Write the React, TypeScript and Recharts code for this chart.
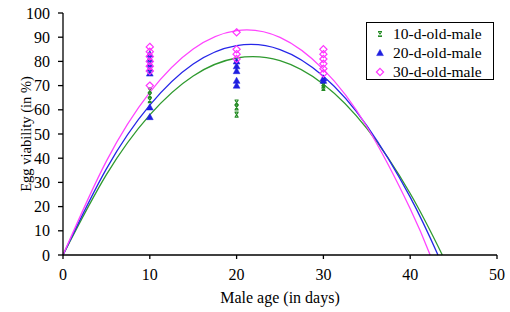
import React from 'react';
import { ComposedChart, Line, Scatter, XAxis, YAxis, Legend } from 'recharts';

const ageTicks = [0, 10, 20, 30, 40, 50];
const viabilityTicks = [0, 10, 20, 30, 40, 50, 60, 70, 80, 90, 100];

const seriesNames = ['10-d-old-male', '20-d-old-male', '30-d-old-male'];
const seriesColors = ['#238a23', '#1f1fe0', '#ff33ff'];
const lineColors = ['#2f9a2f', '#2626e8', '#ff44ff'];

// fitted trend curves
const fit10 = [
  { age: 0, v: 0 }, { age: 5, v: 33.2 }, { age: 10, v: 57.9 }, { age: 15, v: 74.0 },
  { age: 20, v: 81.4 }, { age: 25, v: 80.3 }, { age: 30, v: 70.6 }, { age: 35, v: 52.3 },
  { age: 40, v: 25.4 }, { age: 43.7, v: 0 },
];
const fit20 = [
  { age: 0, v: 0 }, { age: 5, v: 35.6 }, { age: 10, v: 61.9 }, { age: 15, v: 78.9 },
  { age: 20, v: 86.5 }, { age: 25, v: 84.9 }, { age: 30, v: 73.9 }, { age: 35, v: 53.5 },
  { age: 40, v: 23.9 }, { age: 43.2, v: 0 },
];
const fit30 = [
  { age: 0, v: 0 }, { age: 5, v: 38.8 }, { age: 10, v: 67.2 }, { age: 15, v: 85.1 },
  { age: 20, v: 92.7 }, { age: 25, v: 89.9 }, { age: 30, v: 76.7 }, { age: 35, v: 53.1 },
  { age: 40, v: 19.1 }, { age: 42.3, v: 0 },
];

// observations
const obs10 = [
  { age: 10, v: 68 }, { age: 10, v: 66 }, { age: 10, v: 64 },
  { age: 20, v: 63 }, { age: 20, v: 61 }, { age: 20, v: 58 },
  { age: 30, v: 70 }, { age: 30, v: 69 },
];
const obs20 = [
  { age: 10, v: 83 }, { age: 10, v: 81 }, { age: 10, v: 79 }, { age: 10, v: 77 },
  { age: 10, v: 75 }, { age: 10, v: 61 }, { age: 10, v: 57 },
  { age: 20, v: 80 }, { age: 20, v: 78 }, { age: 20, v: 76 }, { age: 20, v: 72 }, { age: 20, v: 70 },
  { age: 30, v: 73 }, { age: 30, v: 72 },
];
const obs30 = [
  { age: 10, v: 86 }, { age: 10, v: 84 }, { age: 10, v: 82 }, { age: 10, v: 80 },
  { age: 10, v: 78 }, { age: 10, v: 76 }, { age: 10, v: 70 },
  { age: 20, v: 92 }, { age: 20, v: 85 }, { age: 20, v: 83 }, { age: 20, v: 81 },
  { age: 30, v: 85 }, { age: 30, v: 83 }, { age: 30, v: 81 }, { age: 30, v: 79 },
  { age: 30, v: 77 }, { age: 30, v: 75 },
];

const FONT = '"Liberation Serif", "Times New Roman", serif';

const Hourglass = ({ cx, cy, color }: any) => (
  <path
    d={`M${cx - 2},${cy - 2.5}H${cx + 2}M${cx - 2},${cy + 2.5}H${cx + 2}M${cx - 1.6},${cy - 2.3}L${cx + 1.6},${cy + 2.3}M${cx + 1.6},${cy - 2.3}L${cx - 1.6},${cy + 2.3}`}
    stroke={color}
    strokeWidth={1.1}
    fill="none"
  />
);
const Tri = ({ cx, cy, color }: any) => (
  <path d={`M${cx},${cy - 3.6}L${cx + 3.4},${cy + 2.6}L${cx - 3.4},${cy + 2.6}Z`} fill={color} stroke={color} strokeWidth={0.5} />
);
const Diamond = ({ cx, cy, color }: any) => (
  <path d={`M${cx},${cy - 3.6}L${cx + 3.6},${cy}L${cx},${cy + 3.6}L${cx - 3.6},${cy}Z`} fill="none" stroke={color} strokeWidth={1.2} />
);

const markers = [Hourglass, Tri, Diamond];

const LegendBox = () => (
  <div
    style={{
      border: '1.5px solid #000',
      background: '#fff',
      width: 128,
      height: 58,
      boxSizing: 'border-box',
      fontFamily: FONT,
      fontSize: 15.5,
      paddingTop: 1,
    }}
  >
    {seriesNames.map((name, i) => {
      const M = markers[i];
      return (
        <div key={name} style={{ display: 'flex', alignItems: 'center', height: 19, lineHeight: '18px' }}>
          <svg width={26} height={12} style={{ flex: 'none' }}>
            <M cx={13} cy={6} color={seriesColors[i]} />
          </svg>
          <span>{name}</span>
        </div>
      );
    })}
  </div>
);

export default function App() {
  return (
    <div style={{ position: 'absolute', left: 0, top: 0, width: 510, height: 312, background: '#fff' }}>
      <ComposedChart width={510} height={312} margin={{ top: 13, right: 13, left: 18, bottom: 0 }}>
        <XAxis
          dataKey="age"
          type="number"
          domain={[0, 50]}
          ticks={ageTicks}
          allowDuplicatedCategory={false}
          stroke="#000"
          strokeWidth={1.3}
          tickSize={4}
          tickMargin={10}
          height={57}
          tick={{ fill: '#000', fontSize: 16, fontFamily: FONT }}
          label={{ value: 'Male age (in days)', position: 'insideBottom', offset: 9, fill: '#000', fontSize: 16, fontFamily: FONT }}
        />
        <YAxis
          type="number"
          domain={[0, 100]}
          ticks={viabilityTicks}
          stroke="#000"
          strokeWidth={1.3}
          tickSize={5}
          tickMargin={8}
          width={45}
          tick={{ fill: '#000', fontSize: 16, fontFamily: FONT }}
          label={{ value: 'Egg viability (in %)', angle: -90, position: 'insideLeft', offset: 8, style: { textAnchor: 'middle' }, fill: '#000', fontSize: 14.5, fontFamily: FONT }}
        />
        <Legend
          layout="horizontal"
          verticalAlign="middle"
          align="center"
          content={() => <LegendBox />}
          wrapperStyle={{ left: 366, top: 22, width: 128, height: 58 }}
        />
        <Line data={fit10} dataKey="v" type="natural" stroke={lineColors[0]} strokeWidth={1.3} dot={false} isAnimationActive={false} legendType="none" />
        <Line data={fit20} dataKey="v" type="natural" stroke={lineColors[1]} strokeWidth={1.3} dot={false} isAnimationActive={false} legendType="none" />
        <Line data={fit30} dataKey="v" type="natural" stroke={lineColors[2]} strokeWidth={1.3} dot={false} isAnimationActive={false} legendType="none" />
        <Scatter data={obs10} dataKey="v" name={seriesNames[0]} isAnimationActive={false} shape={(p: any) => <Hourglass cx={p.cx} cy={p.cy} color={seriesColors[0]} />} />
        <Scatter data={obs20} dataKey="v" name={seriesNames[1]} isAnimationActive={false} shape={(p: any) => <Tri cx={p.cx} cy={p.cy} color={seriesColors[1]} />} />
        <Scatter data={obs30} dataKey="v" name={seriesNames[2]} isAnimationActive={false} shape={(p: any) => <Diamond cx={p.cx} cy={p.cy} color={seriesColors[2]} />} />
      </ComposedChart>
    </div>
  );
}
